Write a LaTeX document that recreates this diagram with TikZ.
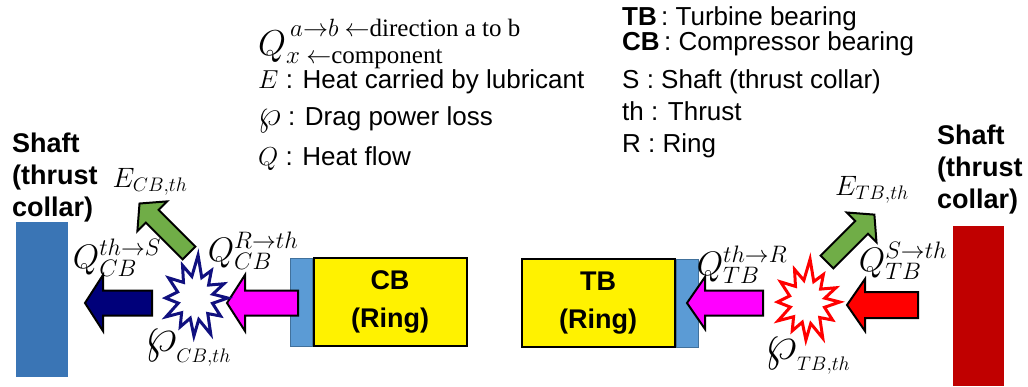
\documentclass[tikz,border=0pt]{standalone}
\usepackage{fix-cm}
\usepackage{amsmath}
\usepackage{graphicx}
\usepackage{fontspec}
\setmainfont{Liberation Sans}
\newfontfamily\serif{Liberation Serif}
\usepackage{tikz}
\usetikzlibrary{math,positioning}

\definecolor{shaftblue}{HTML}{3A75B5}
\definecolor{plateblue}{HTML}{5B9BD5}
\definecolor{plateedge}{HTML}{41719C}
\definecolor{leafgreen}{HTML}{70AD47}
\definecolor{shaftred}{HTML}{C00000}
\definecolor{flowpink}{RGB}{255,0,255}
\definecolor{flowred}{RGB}{255,0,0}
\definecolor{navyfill}{HTML}{00007A}
\definecolor{navystar}{HTML}{10107F}

% bigger drag power loss sign
\newcommand{\dragw}[1]{\scalebox{#1}{$\wp$}}

% block arrow: style, tail x, tail y, angle, length, body half, head half
\newcommand{\fatarrow}[7]{
\begin{scope}[shift={(#2,#3)}, rotate=#4]
\draw[line width=2pt, line join=miter, #1] (0,-#6) -- (#5-18,-#6) -- (#5-18,-#7) -- (#5,0)
  -- (#5-18,#7) -- (#5-18,#6) -- (0,#6) -- cycle;
\end{scope}
}

% explosion: x, y, colour
\newcommand{\boom}[3]{
\draw[line width=3pt, line join=miter, draw=#3, fill=white, shift={(#1,#2)}, xscale=0.82]
  (0:40) \foreach \a/\r in {14/22, 30/36, 45/22, 62/41, 78/22, 92/38, 106/21, 122/34, 138/22,
  152/40, 166/21, 180/36, 196/22, 212/38, 228/21, 245/36, 260/22, 275/43, 292/22,
  306/34, 322/21, 338/38, 350/22} { -- (\a:\r) } -- cycle;
}

\begin{document}
\begin{tikzpicture}[x=1pt, y=-1pt,
  lbl/.style={anchor=base west, inner sep=0, font=\fontsize{26}{30}\selectfont},
  shaftlbl/.style={anchor=north west, inner sep=0, align=left, font=\bfseries\fontsize{27}{32}\selectfont},
  ring/.style={draw=black, line width=2pt, fill=yellow, minimum width=153, minimum height=88,
    align=center, font=\bfseries\fontsize{27}{38}\selectfont},
  plate/.style={draw=plateedge, line width=1pt, fill=plateblue, minimum width=22, minimum height=88, inner sep=0},
  sym/.style={inner sep=0, font=\fontsize{34}{40}\selectfont},
  loss/.style={inner sep=0, font=\fontsize{28}{34}\selectfont}]

\useasboundingbox (0,0) rectangle (1028,386);

% legend
\node[lbl, font=\fontsize{36}{40}\selectfont] (legq) at (258,55) {$Q$};
\node[lbl, font=\serif\fontsize{25}{30}\selectfont] (legsup) at (290,36) {$a{\rightarrow}b$ $\leftarrow$direction a to b};
\node[lbl, font=\serif\fontsize{25}{30}\selectfont] (legsub) at (286,63) {$x$ $\leftarrow$component};
\node[lbl] (lege) at (258,88) {$E$ : Heat carried by lubricant};
\node[lbl] (legw) at (258,125) {\dragw{1.4} : Drag power loss};
\node[lbl] (legh) at (258,165) {$Q$ : Heat flow};

\node[lbl] (legtb) at (622,25) {\textbf{TB}\,: Turbine bearing};
\node[lbl] (legcb) at (622,50) {\textbf{CB}\,: Compressor bearing};
\node[lbl] (legs) at (622,88) {S : Shaft (thrust collar)};
\node[lbl] (legth) at (622,120) {th : Thrust};
\node[lbl] (legr) at (622,152) {R : Ring};

% shafts
\fill[shaftblue] (16,222) rectangle (68,377);
\fill[shaftred] (953,226) rectangle (1004,386);
\node[shaftlbl] (shaftl) at (12,133) {Shaft\\(thrust\\collar)};
\node[shaftlbl] (shaftr) at (937,125) {Shaft\\(thrust\\collar)};

% rings
\node[ring] (cb) at (390,302) {CB\\(Ring)};
\node[plate, anchor=east] (cbplate) at (cb.west) {};
\node[ring] (tb) at (598,303) {TB\\(Ring)};
\node[plate, anchor=west] (tbplate) at (tb.east) {};

% heat flows
\fatarrow{fill=navyfill}{152}{303}{180}{67}{12.5}{28}
\fatarrow{fill=flowpink}{298}{303}{180}{71}{12.5}{28}
\fatarrow{fill=leafgreen}{189}{253}{135}{70}{9}{21}
\fatarrow{fill=flowpink}{763}{303}{180}{76}{12.5}{26}
\fatarrow{fill=flowred}{918}{305}{180}{71}{13}{26}
\fatarrow{fill=leafgreen}{827}{262}{45}{67}{9}{21}

\boom{195}{298}{navystar}
\boom{807}{302}{flowred}

% symbols
\node[loss] (ecb) at (150,182) {$E_{CB,th}$};
\node[sym] (qcbs) at (117,258) {$Q_{CB}^{th\rightarrow S}$};
\node[sym] (qcbr) at (253,251) {$Q_{CB}^{R\rightarrow th}$};
\node[loss] (wcb) at (188,348) {${\dragw{1.8}}_{CB,th}$};
\node[sym] (qtbr) at (742,265) {$Q_{TB}^{th\rightarrow R}$};
\node[loss] (etb) at (872,190) {$E_{TB,th}$};
\node[sym] (qtbs) at (903,261) {$Q_{TB}^{S\rightarrow th}$};
\node[loss] (wtb) at (808,356) {${\dragw{1.8}}_{TB,th}$};

\end{tikzpicture}
\end{document}
